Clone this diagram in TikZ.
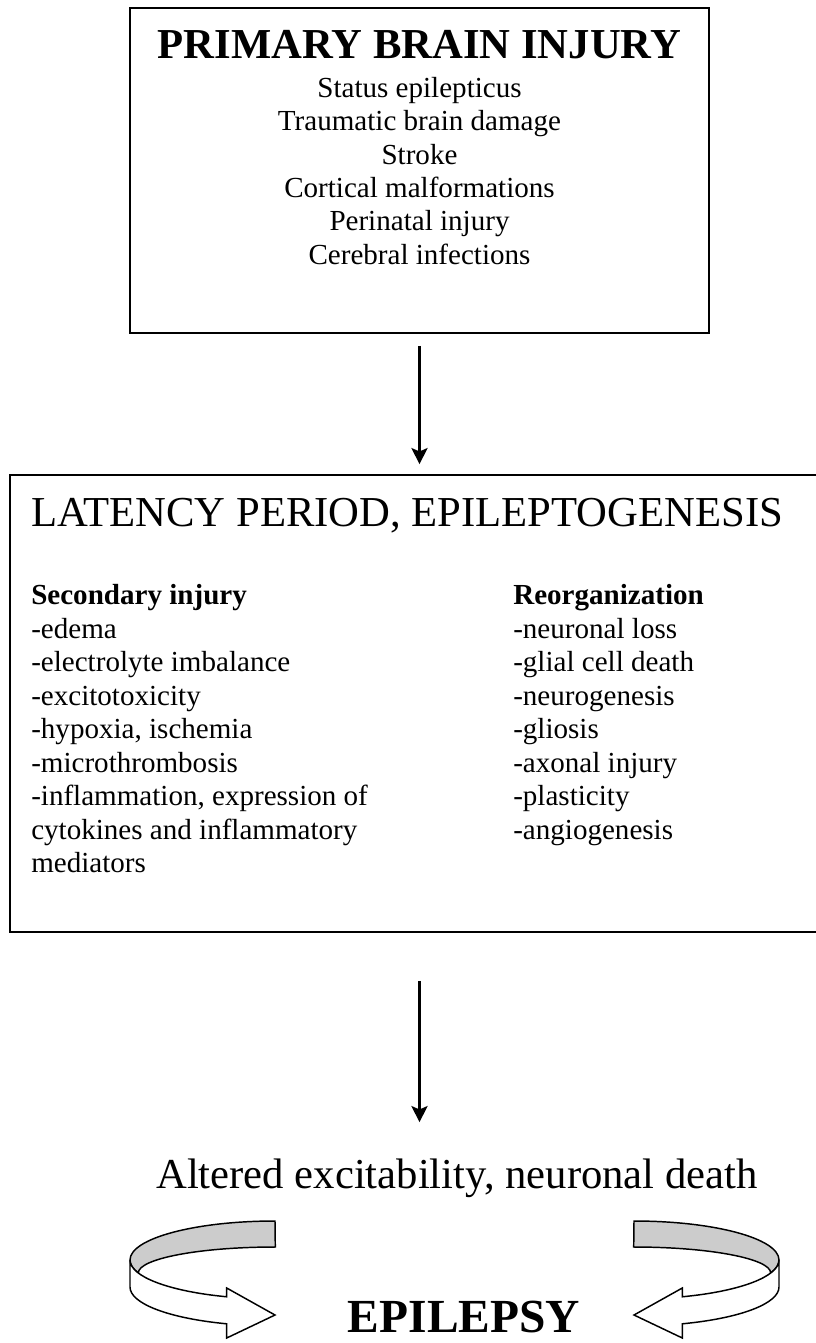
\documentclass[tikz,border=0pt]{standalone}
\usepackage{fontspec}
\setmainfont{Liberation Serif}
\usetikzlibrary{arrows.meta}
\newcommand{\myRibbonArrow}{%
    \path[backface] (275,1221) arc[start angle=270,end angle=180,x radius=145,y radius=39]
       arc[start angle=180,end angle=160.53,x radius=145,y radius=39]
       arc[start angle=180,end angle=270,x radius=137,y radius=26] -- cycle;
    \path[frontface] (130,1260) arc[start angle=180,end angle=109.46,x radius=145,y radius=39]
       -- (226.7,1288) -- (275,1315) -- (226.7,1338) -- (226.7,1323.8)
       arc[start angle=109.46,end angle=180,x radius=145,y radius=39] -- cycle;
}
\begin{document}
\begin{tikzpicture}[x=0.75pt,y=-0.75pt,
  box/.style={draw=black, line width=1.3pt, inner sep=0pt},
  txt/.style={inner sep=0pt, anchor=base, font=\fontsize{21.8}{25}\selectfont},
  txtl/.style={txt, anchor=base west},
  txtb/.style={inner sep=0pt, anchor=base west, font=\bfseries\fontsize{21.8}{25}\selectfont},
  head/.style={inner sep=0pt, anchor=base, font=\fontsize{32}{38}\selectfont},
  headb/.style={inner sep=0pt, anchor=base, font=\bfseries\fontsize{32}{38}\selectfont},
  flow/.style={line width=2.2pt, -{Stealth[length=12pt,width=12pt,inset=2.5pt]}},
  ribbon/.style={draw=black, line width=1.1pt, line join=miter},
  backface/.style={ribbon, fill=gray!40},
  frontface/.style={ribbon, fill=white},
]
\useasboundingbox (0,0) rectangle (816,1343);
\clip (0,0) rectangle (816,1343);

% Primary brain injury box
\node[box, minimum width=434.25pt, minimum height=243.75pt] (primary) at (419.5,170.5) {};
\node[headb] (primtitle) at (419.5,58) {PRIMARY BRAIN INJURY};
\node[txt] (p1) at (419.5,97) {Status epilepticus};
\node[txt] (p2) at (419.5,130.5) {Traumatic brain damage};
\node[txt] (p3) at (419.5,164) {Stroke};
\node[txt] (p4) at (419.5,197) {Cortical malformations};
\node[txt] (p5) at (419.5,230.5) {Perinatal injury};
\node[txt] (p6) at (419.5,264) {Cerebral infections};

% Latency box
\node[box, minimum width=615pt, minimum height=342.75pt] (latency) at (420,703.5) {};
\node[head, anchor=base west] (lattitle) at (31,526) {LATENCY PERIOD, EPILEPTOGENESIS};

\node[txtb] (sec) at (31,604) {Secondary injury};
\node[txtl] (s1) at (31,638) {-edema};
\node[txtl] (s2) at (31,671.5) {-electrolyte imbalance};
\node[txtl] (s3) at (31,705) {-excitotoxicity};
\node[txtl] (s4) at (31,738.5) {-hypoxia, ischemia};
\node[txtl] (s5) at (31,772) {-microthrombosis};
\node[txtl] (s6) at (31,805.5) {-inflammation, expression of};
\node[txtl] (s7) at (31,839) {cytokines and inflammatory};
\node[txtl] (s8) at (31,872.5) {mediators};

\node[txtb] (reorg) at (513,604) {Reorganization};
\node[txtl] (r1) at (513,638) {-neuronal loss};
\node[txtl] (r2) at (513,671.5) {-glial cell death};
\node[txtl] (r3) at (513,705) {-neurogenesis};
\node[txtl] (r4) at (513,738.5) {-gliosis};
\node[txtl] (r5) at (513,772) {-axonal injury};
\node[txtl] (r6) at (513,805.5) {-plasticity};
\node[txtl] (r7) at (513,839) {-angiogenesis};

% Outcome
\node[head] (altered) at (457,1188) {Altered excitability, neuronal death};
\node[inner sep=0pt, anchor=base, font=\bfseries\fontsize{35.6}{40}\selectfont] (epilepsy) at (464,1332) {EPILEPSY};

% Connectors
\draw[flow, shorten <=9pt, shorten >=7.5pt] (primary.south) -- (primary.south |- latency.north);
\draw[flow, shorten <=36pt, shorten >=27pt] (primary.south |- latency.south) -- (primary.south |- altered.north);

% Curved ribbon arrows
\myRibbonArrow
\begin{scope}[shift={(909,0)}]
  \begin{scope}[xscale=-1]
    \myRibbonArrow
  \end{scope}
\end{scope}
\end{tikzpicture}
\end{document}
